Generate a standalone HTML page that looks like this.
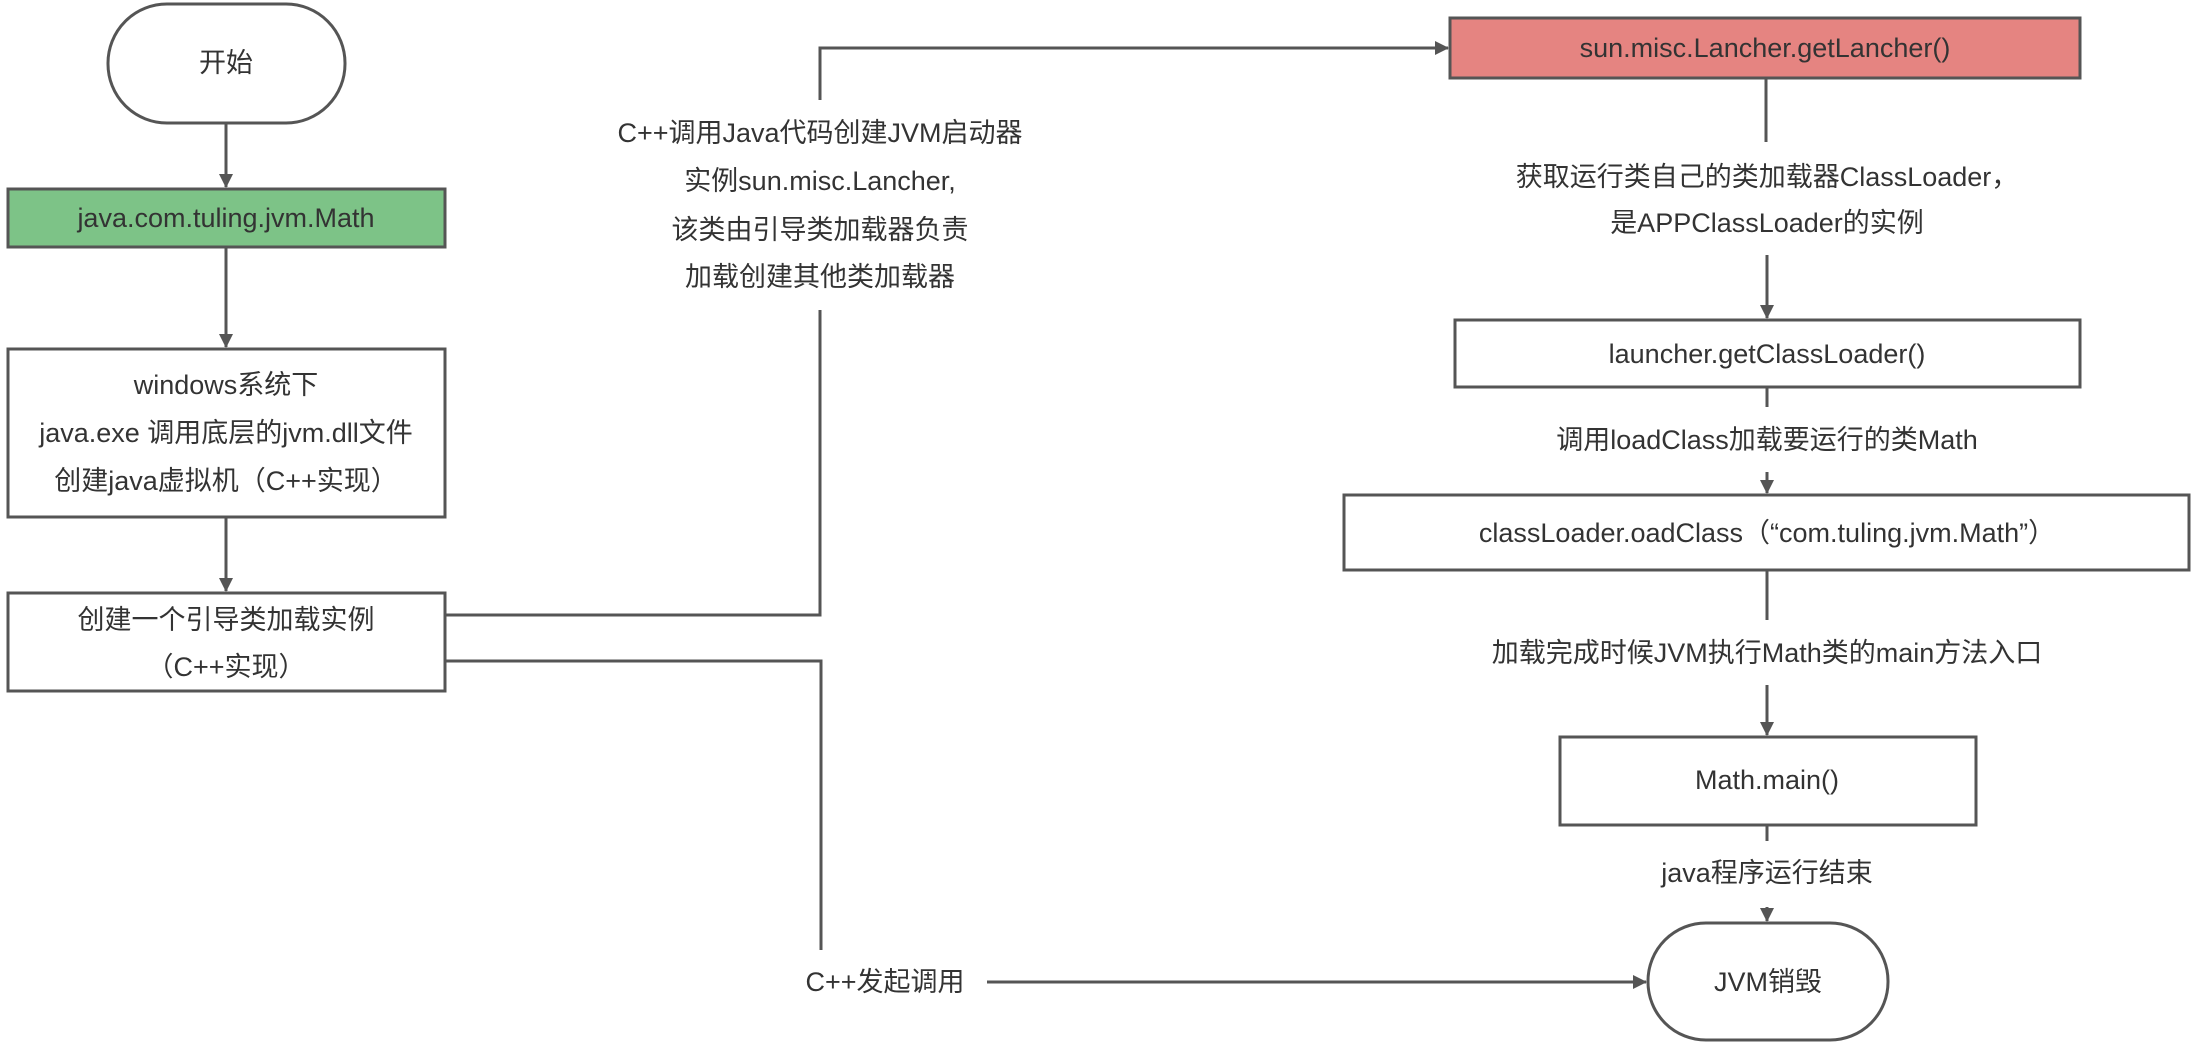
<!DOCTYPE html>
<html><head><meta charset="utf-8"><style>
html,body{margin:0;padding:0;background:#fff;}
svg text{font-family:"Liberation Sans","Noto Sans CJK SC",sans-serif;font-size:27px;fill:#333;text-anchor:middle;dominant-baseline:central;}
</style></head><body>
<svg width="2194" height="1043" viewBox="0 0 2194 1043" xmlns="http://www.w3.org/2000/svg">
<defs>
<marker id="b" markerWidth="14" markerHeight="14" refX="13" refY="7" orient="auto" markerUnits="userSpaceOnUse" viewBox="0 0 14 14"><path d="M0,0 L14,7 L0,14 z" fill="#555"/></marker></defs>
<g stroke="#555" stroke-width="3" fill="none">
<rect x="108" y="4" width="237" height="119" rx="59"/>
<rect x="8" y="189" width="437" height="58" fill="#7dc387"/>
<rect x="8" y="349" width="437" height="168" fill="#fff"/>
<rect x="8" y="593" width="437" height="98" fill="#fff"/>
<rect x="1450" y="18" width="630" height="60" fill="#e58481"/>
<rect x="1455" y="320" width="625" height="67"/>
<rect x="1344" y="495" width="845" height="75"/>
<rect x="1560" y="737" width="416" height="88"/>
<rect x="1648" y="923" width="240" height="117" rx="58"/>
<line x1="226" y1="123" x2="226" y2="187" marker-end="url(#b)"/>
<line x1="226" y1="247" x2="226" y2="347" marker-end="url(#b)"/>
<line x1="226" y1="517" x2="226" y2="591" marker-end="url(#b)"/>
<polyline points="445,615 820,615 820,310"/>
<polyline points="820,100 820,48 1448,48" marker-end="url(#b)"/>
<polyline points="445,661 821,661 821,950"/>
<line x1="987" y1="982" x2="1646" y2="982" marker-end="url(#b)"/>
<line x1="1766" y1="78" x2="1766" y2="142"/>
<line x1="1767" y1="255" x2="1767" y2="318" marker-end="url(#b)"/>
<line x1="1767" y1="387" x2="1767" y2="407"/>
<line x1="1767" y1="472" x2="1767" y2="493" marker-end="url(#b)"/>
<line x1="1767" y1="570" x2="1767" y2="620"/>
<line x1="1767" y1="685" x2="1767" y2="735" marker-end="url(#b)"/>
<line x1="1767" y1="825" x2="1767" y2="841"/>
<line x1="1767" y1="907" x2="1767" y2="921" marker-end="url(#b)"/>
</g>
<text x="226" y="63">开始</text>
<text x="226" y="218">java.com.tuling.jvm.Math</text>
<text x="226" y="385">windows系统下</text>
<text x="226" y="433">java.exe 调用底层的jvm.dll文件</text>
<text x="226" y="481">创建java虚拟机（C++实现）</text>
<text x="226" y="620">创建一个引导类加载实例</text>
<text x="226" y="667">（C++实现）</text>
<text x="820" y="133">C++调用Java代码创建JVM启动器</text>
<text x="820" y="181">实例sun.misc.Lancher,</text>
<text x="820" y="230">该类由引导类加载器负责</text>
<text x="820" y="277">加载创建其他类加载器</text>
<text x="885" y="982">C++发起调用</text>
<text x="1765" y="48">sun.misc.Lancher.getLancher()</text>
<text x="1767" y="177">获取运行类自己的类加载器ClassLoader，</text>
<text x="1767" y="223">是APPClassLoader的实例</text>
<text x="1767" y="354">launcher.getClassLoader()</text>
<text x="1767" y="440">调用loadClass加载要运行的类Math</text>
<text x="1767" y="533">classLoader.oadClass（“com.tuling.jvm.Math”）</text>
<text x="1767" y="653">加载完成时候JVM执行Math类的main方法入口</text>
<text x="1767" y="780">Math.main()</text>
<text x="1767" y="873">java程序运行结束</text>
<text x="1768" y="982">JVM销毁</text>
</svg>
</body></html>
